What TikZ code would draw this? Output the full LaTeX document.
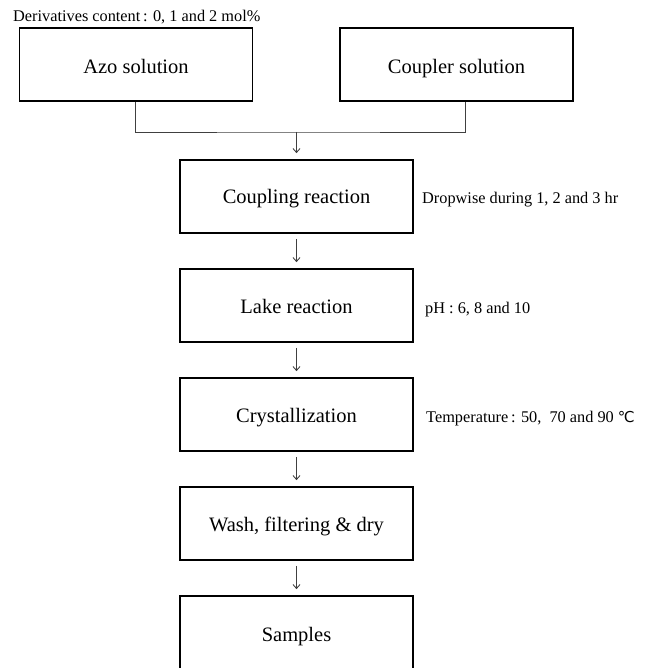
\documentclass[tikz,border=0pt]{standalone}
\usepackage{fontspec}
\setmainfont{Liberation Serif}
\newfontfamily\symfont{DejaVu Sans}
\usetikzlibrary{arrows.meta}
\begin{document}
\begin{tikzpicture}[x=1pt,y=-1pt,
  box/.style={draw=black,line width=1.6pt,minimum width=233pt,minimum height=73pt,inner sep=0pt,text height=19pt,text depth=4pt,font=\fontsize{20.5}{23}\selectfont},
  topbox/.style={box,text height=23pt},
  lbl/.style={anchor=west,inner sep=0pt,font=\fontsize{16.3}{18}\selectfont},
  conn/.style={draw=black!75,line width=0.9pt},
  arr/.style={conn,-{Straight Barb[length=4pt,width=7pt,line width=0.9pt]},shorten <=5pt,shorten >=6pt}]
\useasboundingbox (0,0) rectangle (650,668);
\clip (0,0) rectangle (650,668);
\node[lbl] (deriv) at (13,17) {Derivatives content\,: 0, 1 and 2 mol\%};
\node[topbox] (azo) at (136,64.5) {Azo solution};
\node[topbox] (coupler) at (456.5,64.5) {Coupler solution};
\node[box] (coupling) at (296.5,196.5) {Coupling reaction};
\node[box] (lake) at (296.5,305.5) {Lake reaction};
\node[box] (cryst) at (296.5,414.5) {Crystallization};
\node[box] (wash) at (296.5,523.5) {Wash, filtering \& dry};
\node[draw=black,line width=1.6pt,minimum width=233pt,minimum height=110pt,inner sep=0pt] (samplesbox) at (296.5,651) {};
\node[inner sep=0pt,font=\fontsize{20.5}{23}\selectfont] (samples) at (296.5,637) {Samples};
\node[lbl] (drop) at (422,199.5) {Dropwise during 1, 2 and 3 hr};
\node[lbl] (ph) at (425,309.5) {pH : 6, 8 and 10};
\node[lbl] (temp) at (426,418.5) {Temperature\,: 50,\ \ 70 and 90 {\symfont\fontsize{15}{16}\selectfont ℃}};
\coordinate (j) at (296.5,132);
\draw[conn] ([xshift=-1pt]azo.south) |- (j) -| ([xshift=8.5pt]coupler.south);
\draw[arr,shorten <=0pt] (j) -- (coupling.north);
\draw[arr] (coupling.south) -- (lake.north);
\draw[arr] (lake.south) -- (cryst.north);
\draw[arr] (cryst.south) -- (wash.north);
\draw[arr] (wash.south) -- (samplesbox.north);
\end{tikzpicture}
\end{document}
